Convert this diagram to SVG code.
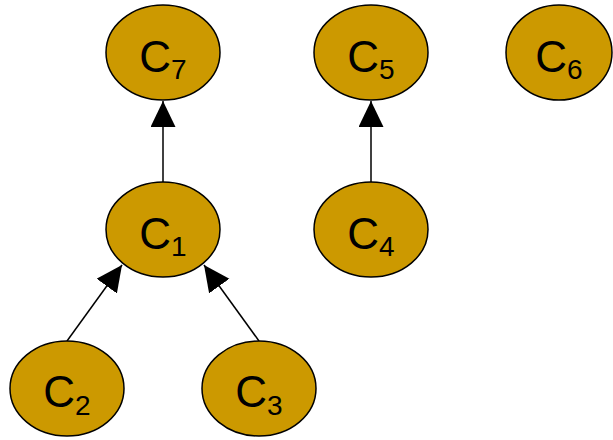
<svg xmlns="http://www.w3.org/2000/svg" width="613" height="440" viewBox="0 0 613 440">
  <style>
    .node ellipse { fill: #CC9900; stroke: #000000; stroke-width: 1.5; }
    .node text { font-family: "Liberation Sans", Arial, sans-serif; font-size: 44px; fill: #000000; text-anchor: middle; }
    .node tspan.sub { font-size: 28px; }
    .edges line { stroke: #000000; stroke-width: 1.5; marker-end: url(#arrow); }
  </style>
  <defs>
    <marker id="arrow" markerUnits="userSpaceOnUse" markerWidth="27" markerHeight="26" refX="26" refY="12.5" orient="auto">
      <path d="M0,0 L26,12.5 L0,25 z" fill="#000000"/>
    </marker>
  </defs>

  <g class="edges">
    <line x1="163" y1="182" x2="163" y2="101"/>
    <line x1="371" y1="182" x2="371" y2="101"/>
    <line x1="67" y1="341" x2="122" y2="265"/>
    <line x1="259" y1="341" x2="204" y2="265"/>
  </g>

  <g id="c7" class="node">
    <ellipse cx="163" cy="52.5" rx="57" ry="47.5"/>
    <text x="163" y="71.5">C<tspan class="sub" dy="7.5">7</tspan></text>
  </g>
  <g id="c5" class="node">
    <ellipse cx="371" cy="52.5" rx="57" ry="47.5"/>
    <text x="371" y="71.5">C<tspan class="sub" dy="7.5">5</tspan></text>
  </g>
  <g id="c6" class="node">
    <ellipse cx="559" cy="52.5" rx="53" ry="47.5"/>
    <text x="559" y="71.5">C<tspan class="sub" dy="7.5">6</tspan></text>
  </g>
  <g id="c1" class="node">
    <ellipse cx="163" cy="229.5" rx="57" ry="47.5"/>
    <text x="163" y="248.5">C<tspan class="sub" dy="7.5">1</tspan></text>
  </g>
  <g id="c4" class="node">
    <ellipse cx="371" cy="229.5" rx="57" ry="47.5"/>
    <text x="371" y="248.5">C<tspan class="sub" dy="7.5">4</tspan></text>
  </g>
  <g id="c2" class="node">
    <ellipse cx="67" cy="388.5" rx="57" ry="47.5"/>
    <text x="67" y="407">C<tspan class="sub" dy="7.5">2</tspan></text>
  </g>
  <g id="c3" class="node">
    <ellipse cx="259" cy="388.5" rx="57" ry="47.5"/>
    <text x="259" y="407">C<tspan class="sub" dy="7.5">3</tspan></text>
  </g>
</svg>
